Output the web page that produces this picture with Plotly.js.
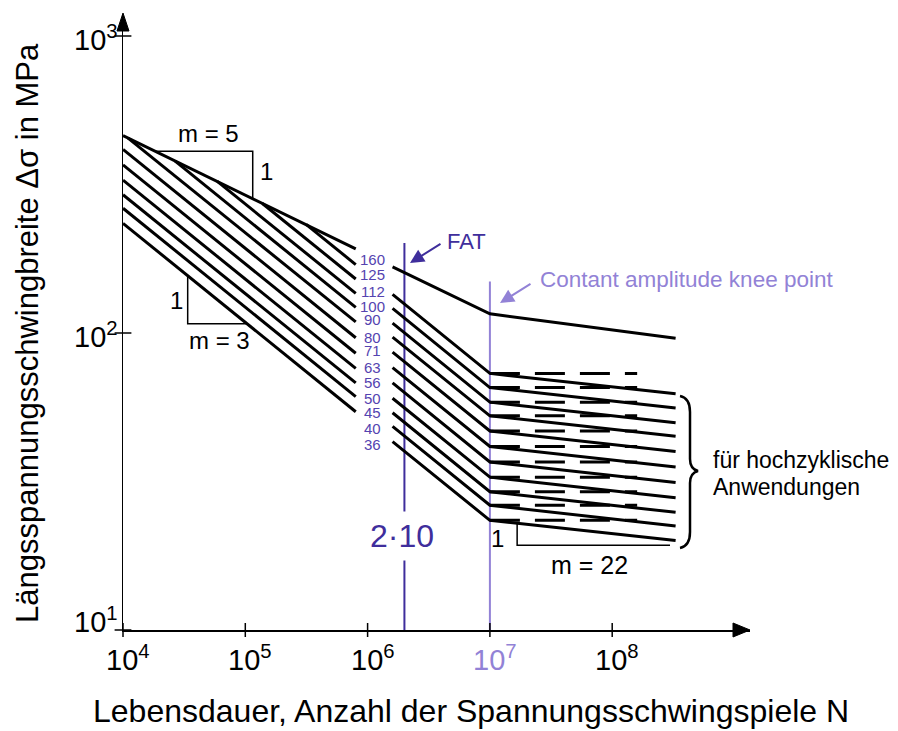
<!DOCTYPE html>
<html><head><meta charset="utf-8">
<script src="https://cdn.plot.ly/plotly-3.0.1.min.js"></script>
<style>html,body{margin:0;padding:0;background:#fff}#chart{width:898px;height:731px}</style>
</head><body><div id="chart"></div>
<script>
// ---- data ----
const fatClasses  = [160, 125, 112, 100, 90, 80, 71, 63, 56, 50, 45, 40];
const leftStartN  = [1e4, 3.14e5, 1.38e5, 5.9e4, 2.67e4, 1.1e4, 1e4, 1e4, 1e4, 1e4, 1e4, 1e4];
const leftStartS  = [462, 232, 273, 324, 379, 453, 415, 368, 327, 292, 263, 234];
const leftEndN    = 8e5;
const leftEndS    = [192, 170, 152, 136, 122, 109, 96.4, 85.5, 76.0, 67.9, 61.1, 54.3];
const rightStartN = 1.6e6;
const rightStartS = [167, 135, 121, 108, 96.9, 86.2, 76.5, 67.9, 60.3, 53.9, 48.5, 43.1];
const kneeN       = 1e7;
const kneeS       = [116, 73.1, 65.5, 58.5, 52.6, 46.8, 41.5, 36.8, 32.7, 29.2, 26.3, 23.4];
const endN        = 3.3e8;
const endS        = [96, 62.4, 55.9, 49.9, 44.9, 39.9, 35.4, 31.4, 27.9, 24.9, 22.4, 20.0];
const dashEndN    = 1.6e8;
const labelText   = ['160','125','112','100','90','80','71','63','56','50','45','40','36'];
const labelS      = [177, 156.8, 137.8, 122.6, 111.2, 96.7, 87.0, 76.4, 68.2, 60.0, 53.8, 47.6, 42.2];
const labelN      = 1.1e6;
const fatN        = 2e6;
const fatLineTopS = 201;
const kneeLineTopS = 149;
const xTickVals   = [1e4, 1e5, 1e6, 1e7, 1e8];
const xTickText   = ['10<sup>4</sup>','10<sup>5</sup>','10<sup>6</sup>','10<sup>7</sup>','10<sup>8</sup>'];
const yTickVals   = [10, 100, 1000];
const yTickText   = ['10<sup>1</sup>','10<sup>2</sup>','10<sup>3</sup>'];
// slope triangles (N, S)
const triM5N  = [1.83e4, 1.15e5, 1.15e5];
const triM5S  = [409, 409, 283];
const triM3N  = [3.38e4, 3.38e4, 1.03e5];
const triM3S  = [155.9, 107.5, 107.5];
const triM22N = [1.67e7, 1.67e7, 2.97e8];
const triM22S = [22.9, 19.3, 19.3];

// ---- styling ----
const FONT = 'Liberation Sans, Arial, sans-serif';
const DARK = '#3f2e9c';
const MID = '#5443b0';
const LIGHT = '#9282d6';
const L = 123, R = 148, T = 14, B = 101, W = 898, H = 731;
const PW = W - L - R, PH = H - T - B;
const px = v => (v - L) / PW;
const py = v => (H - B - v) / PH;

const traces = [];
// purple vertical reference lines
traces.push({x:[fatN, fatN], y:[10, fatLineTopS], mode:'lines', line:{color:DARK, width:2}, hoverinfo:'skip'});
traces.push({x:[kneeN, kneeN], y:[10, kneeLineTopS], mode:'lines', line:{color:LIGHT, width:2}, hoverinfo:'skip'});

// S-N curves
fatClasses.forEach((f, i) => {
  traces.push({
    x:[leftStartN[i], leftEndN, null, rightStartN, kneeN, endN],
    y:[leftStartS[i], leftEndS[i], null, rightStartS[i], kneeS[i], endS[i]],
    mode:'lines', line:{color:'#000', width:3}, connectgaps:false, hoverinfo:'skip', name:'FAT '+f
  });
  if (i > 0) {
    traces.push({x:[kneeN, dashEndN], y:[kneeS[i], kneeS[i]], mode:'lines',
      line:{color:'#000', width:3, dash:'30px,15px'}, hoverinfo:'skip'});
  }
});

// slope triangles
[[triM5N, triM5S], [triM3N, triM3S], [triM22N, triM22S]].forEach(t => {
  traces.push({x:t[0], y:t[1], mode:'lines', line:{color:'#000', width:1.5}, hoverinfo:'skip'});
});

// axis ticks (crossing)
traces.push({x:xTickVals, y:xTickVals.map(() => 10), mode:'markers', cliponaxis:false,
  marker:{symbol:'line-ns', size:10, line:{color:'#000', width:1.5}}, hoverinfo:'skip'});
traces.push({x:yTickVals.map(() => 1e4), y:yTickVals, mode:'markers', cliponaxis:false,
  marker:{symbol:'line-ew', size:12, line:{color:'#000', width:1.5}}, hoverinfo:'skip'});

const ann = [];
const txt = (x, y, text, size, color, opts) => Object.assign({
  xref:'paper', yref:'paper', x:px(x), y:py(y), text, showarrow:false,
  font:{family:FONT, size, color}, xanchor:'center', yanchor:'middle'
}, opts || {});

// x tick labels
xTickVals.forEach((v, i) => {
  ann.push({xref:'x', yref:'paper', x:Math.log10(v), y:py(658), text:xTickText[i], showarrow:false,
    xshift:5, font:{family:FONT, size:29, color: v === 1e7 ? LIGHT : '#000'}, xanchor:'center', yanchor:'middle'});
});
// y tick labels
yTickVals.forEach((v, i) => {
  ann.push({xref:'paper', yref:'y', x:px(120), y:Math.log10(v), text:yTickText[i], showarrow:false,
    yshift: v === 10 ? 10 : -2, font:{family:FONT, size:29, color:'#000'}, xanchor:'right', yanchor:'middle'});
});
// axis titles
ann.push(txt(471, 711, 'Lebensdauer, Anzahl der Spannungsschwingspiele N', 32, '#000'));
ann.push(txt(28, 333, 'Längsspannungsschwingbreite Δσ in MPa', 31, '#000', {textangle:-90}));

// FAT class labels
labelText.forEach((t, i) => {
  ann.push({xref:'x', yref:'y', x:Math.log10(labelN), y:Math.log10(labelS[i]), text:t, showarrow:false,
    font:{family:FONT, size:15, color:MID}, xanchor:'center', yanchor:'middle', borderpad:0});
});

// slope texts
ann.push(txt(208, 133, 'm = 5', 24, '#000'));
ann.push(txt(266, 172, '1', 24, '#000'));
ann.push(txt(176, 300, '1', 24, '#000'));
ann.push(txt(219, 340, 'm = 3', 24, '#000'));
ann.push(txt(497, 538, '1', 24, '#000'));
ann.push(txt(589, 565, 'm = 22', 25, '#000'));

// FAT & knee annotations
ann.push(txt(466, 241, 'FAT', 22, DARK));
ann.push({xref:'paper', yref:'paper', x:px(410), y:py(263), ax:32, ay:-20, text:'', showarrow:true,
  arrowhead:2, arrowsize:1.4, arrowwidth:2, arrowcolor:DARK});
ann.push(txt(538, 280, 'Contant amplitude knee point', 22.5, LIGHT, {xanchor:'left'}));
ann.push({xref:'paper', yref:'paper', x:px(500), y:py(303), ax:32, ay:-20, text:'', showarrow:true,
  arrowhead:2, arrowsize:1.4, arrowwidth:2, arrowcolor:LIGHT});
ann.push({xref:'x', yref:'paper', x:Math.log10(fatN), y:py(536), text:'2·10', showarrow:false,
  xshift:-2, font:{family:FONT, size:32, color:DARK}, bgcolor:'#fff', borderpad:6, xanchor:'center', yanchor:'middle'});

// high-cycle note
ann.push(txt(711, 460, 'für hochzyklische', 23, '#000', {xanchor:'left'}));
ann.push(txt(711, 487, 'Anwendungen', 23, '#000', {xanchor:'left'}));

// shapes: arrowheads and brace
const P = (x, y) => px(x).toFixed(5) + ',' + py(y).toFixed(5);
const shapes = [
  {type:'path', xref:'paper', yref:'paper', path:'M'+P(750,630)+' L'+P(733,623)+' L'+P(733,637)+' Z',
   fillcolor:'#000', line:{color:'#000', width:1}},
  {type:'path', xref:'paper', yref:'paper', path:'M'+P(123,13)+' L'+P(117,31)+' L'+P(129,31)+' Z',
   fillcolor:'#000', line:{color:'#000', width:1}},
  {type:'path', xref:'paper', yref:'paper',
   path:'M'+P(680,396)+' Q'+P(690,398)+' '+P(690,412)+' L'+P(690,459)+' Q'+P(690,469)+' '+P(698,471)+
        ' Q'+P(690,473)+' '+P(690,483)+' L'+P(690,532)+' Q'+P(690,546)+' '+P(680,548),
   line:{color:'#000', width:2.5}}
];

const layout = {
  width:W, height:H, margin:{l:L, r:R, t:T, b:B},
  paper_bgcolor:'#fff', plot_bgcolor:'#fff', showlegend:false,
  xaxis:{type:'log', range:[4, 4 + 627/122.3], showgrid:false, zeroline:false, showline:true,
         linecolor:'#000', linewidth:1.5, ticks:'', showticklabels:false, fixedrange:true},
  yaxis:{type:'log', range:[1, 1 + 616/297], showgrid:false, zeroline:false, showline:true,
         linecolor:'#000', linewidth:1.5, ticks:'', showticklabels:false, fixedrange:true},
  annotations:ann, shapes:shapes
};
Plotly.newPlot('chart', traces, layout, {staticPlot:true, displayModeBar:false});
</script></body></html>
